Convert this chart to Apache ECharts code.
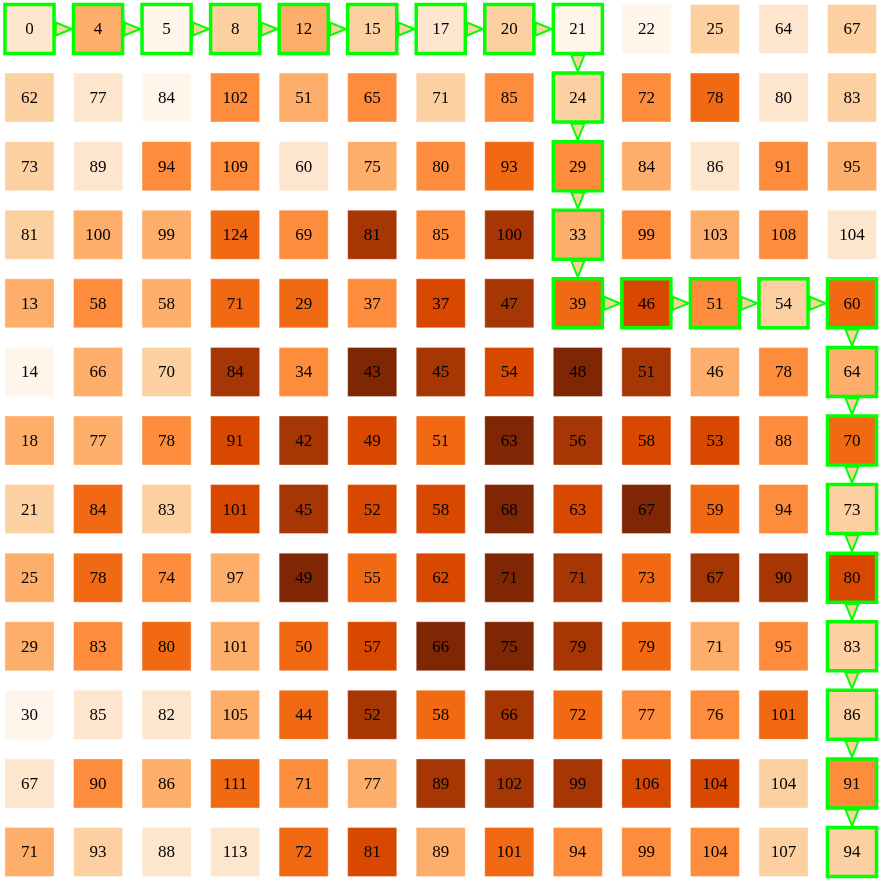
<!DOCTYPE html>
<html>
<head>
<meta charset="utf-8">
<script src="https://cdn.jsdelivr.net/npm/echarts@6/dist/echarts.min.js"></script>
<style>html,body{margin:0;padding:0;background:#fff}#c{width:882px;height:882px}</style>
</head>
<body>
<div id="c"></div>
<script>
// Cumulative cost shown in each cell (row by row, top to bottom)
const costs = [
  [0, 4, 5, 8, 12, 15, 17, 20, 21, 22, 25, 64, 67],
  [62, 77, 84, 102, 51, 65, 71, 85, 24, 72, 78, 80, 83],
  [73, 89, 94, 109, 60, 75, 80, 93, 29, 84, 86, 91, 95],
  [81, 100, 99, 124, 69, 81, 85, 100, 33, 99, 103, 108, 104],
  [13, 58, 58, 71, 29, 37, 37, 47, 39, 46, 51, 54, 60],
  [14, 66, 70, 84, 34, 43, 45, 54, 48, 51, 46, 78, 64],
  [18, 77, 78, 91, 42, 49, 51, 63, 56, 58, 53, 88, 70],
  [21, 84, 83, 101, 45, 52, 58, 68, 63, 67, 59, 94, 73],
  [25, 78, 74, 97, 49, 55, 62, 71, 71, 73, 67, 90, 80],
  [29, 83, 80, 101, 50, 57, 66, 75, 79, 79, 71, 95, 83],
  [30, 85, 82, 105, 44, 52, 58, 66, 72, 77, 76, 101, 86],
  [67, 90, 86, 111, 71, 77, 89, 102, 99, 106, 104, 104, 91],
  [71, 93, 88, 113, 72, 81, 89, 101, 94, 99, 104, 107, 94]
];
// Cell weight (1..9) that sets the fill colour
const weights = [
  [2, 4, 1, 3, 4, 3, 2, 3, 1, 1, 3, 2, 3],
  [3, 2, 1, 5, 4, 5, 3, 5, 3, 5, 6, 2, 3],
  [3, 2, 5, 5, 2, 4, 5, 6, 5, 4, 2, 5, 4],
  [3, 4, 4, 6, 5, 8, 5, 8, 4, 5, 4, 5, 2],
  [4, 5, 4, 6, 6, 5, 7, 8, 6, 7, 5, 3, 6],
  [1, 4, 3, 8, 5, 9, 8, 7, 9, 8, 4, 5, 4],
  [4, 4, 5, 7, 8, 7, 6, 9, 8, 7, 7, 5, 6],
  [3, 6, 3, 7, 8, 7, 7, 9, 7, 9, 6, 5, 3],
  [4, 6, 5, 4, 9, 6, 7, 9, 8, 6, 8, 8, 7],
  [4, 5, 6, 4, 6, 7, 9, 9, 8, 6, 4, 5, 3],
  [1, 2, 2, 4, 6, 8, 6, 8, 6, 5, 5, 6, 3],
  [2, 5, 4, 6, 5, 4, 8, 8, 8, 7, 7, 3, 5],
  [4, 3, 2, 2, 6, 7, 4, 6, 5, 5, 5, 3, 3]
];
// Path as [row, col]
const path = [
  [0,0],[0,1],[0,2],[0,3],[0,4],[0,5],[0,6],[0,7],[0,8],
  [1,8],[2,8],[3,8],[4,8],
  [4,9],[4,10],[4,11],[4,12],
  [5,12],[6,12],[7,12],[8,12],[9,12],[10,12],[11,12],[12,12]
];
const palette = ['#fff5eb','#fee6ce','#fdd0a2','#fdae6b','#fd8d3c','#f16913','#d94801','#a63603','#7f2704'];

const onPath = new Set(path.map(p => p[0] + '_' + p[1]));
const cellData = [];
for (let r = 0; r < costs.length; r++) {
  for (let c = 0; c < costs[r].length; c++) {
    cellData.push([c, r, weights[r][c], costs[r][c], onPath.has(r + '_' + c) ? 1 : 0]);
  }
}
const arrowData = [];
for (let i = 0; i + 1 < path.length; i++) {
  arrowData.push([path[i][1], path[i][0], path[i+1][1], path[i+1][0]]);
}

const CELL_FRAC = 0.716;
const chart = echarts.init(document.getElementById('c'));
chart.setOption({
  animation: false,
  backgroundColor: '#ffffff',
  grid: { left: 29.5, top: 29, width: 822.5, height: 823, containLabel: false },
  xAxis: { type: 'value', min: 0, max: 12, show: false },
  yAxis: { type: 'value', min: 0, max: 12, inverse: true, show: false },
  series: [
    {
      type: 'custom',
      coordinateSystem: 'cartesian2d',
      data: cellData,
      z: 2,
      renderItem: function (params, api) {
        const p = api.coord([api.value(0), api.value(1)]);
        const s = api.size([1, 1]);
        const w = s[0] * CELL_FRAC;
        const lvl = api.value(2);
        const hl = api.value(4) === 1;
        return {
          type: 'group',
          children: [
            {
              type: 'rect',
              shape: { x: p[0] - w / 2, y: p[1] - w / 2, width: w, height: w },
              style: hl ? { fill: palette[lvl - 1], stroke: '#00ff00', lineWidth: 3.5 }
                        : { fill: palette[lvl - 1], stroke: 'rgba(255,255,255,0.35)', lineWidth: 1 }
            },
            {
              type: 'text',
              z2: 10,
              style: {
                text: String(api.value(3)),
                x: p[0], y: p[1] + 1,
                align: 'center', verticalAlign: 'middle',
                fontFamily: '"Liberation Serif", "DejaVu Serif", serif',
                fontSize: 17,
                fill: '#000000'
              }
            }
          ]
        };
      }
    },
    {
      type: 'custom',
      coordinateSystem: 'cartesian2d',
      data: arrowData,
      z: 3,
      renderItem: function (params, api) {
        const p0 = api.coord([api.value(0), api.value(1)]);
        const p1 = api.coord([api.value(2), api.value(3)]);
        const s = api.size([1, 1]);
        const h = s[0] * CELL_FRAC / 2 + 1.75;
        const dx = p1[0] - p0[0], dy = p1[1] - p0[1];
        const L = Math.sqrt(dx * dx + dy * dy);
        const ux = dx / L, uy = dy / L;
        const vx = -uy, vy = ux;
        const bx = p0[0] + ux * h, by = p0[1] + uy * h;
        const tx = p1[0] - ux * h, ty = p1[1] - uy * h;
        const hw = 6.5;
        return {
          type: 'polygon',
          shape: { points: [[bx + vx * hw, by + vy * hw], [tx, ty], [bx - vx * hw, by - vy * hw]] },
          style: { fill: '#fdd0a2', stroke: '#00ff00', lineWidth: 2 }
        };
      }
    }
  ]
});
</script>
</body>
</html>
